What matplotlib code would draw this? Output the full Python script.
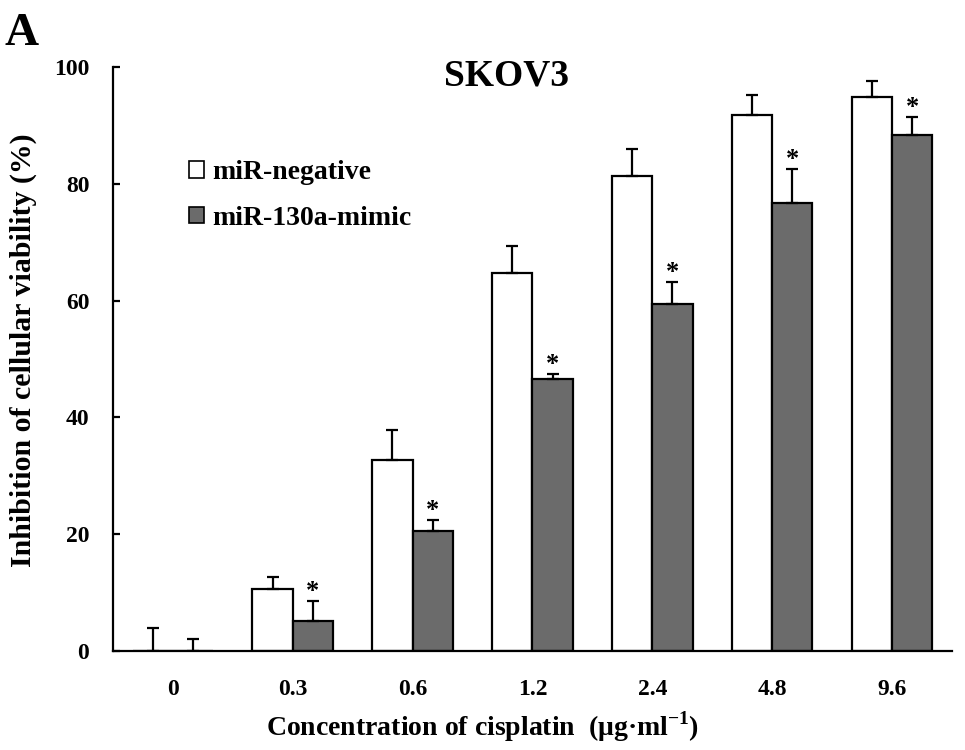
import numpy as np
import matplotlib
matplotlib.use('Agg')
import matplotlib.pyplot as plt
from matplotlib.patches import Patch

plt.rcParams['font.family'] = ['Liberation Serif', 'DejaVu Serif']
plt.rcParams['font.weight'] = 'bold'
plt.rcParams['mathtext.fontset'] = 'custom'
plt.rcParams['mathtext.rm'] = 'Liberation Serif:bold'
plt.rcParams['mathtext.bf'] = 'Liberation Serif:bold'

# Data
doses = ['0', '0.3', '0.6', '1.2', '2.4', '4.8', '9.6']
neg_mean = [0.0, 10.7, 32.7, 64.7, 81.3, 91.8, 94.8]
neg_err = [4.0, 2.0, 5.2, 4.6, 4.6, 3.5, 2.9]
mimic_mean = [0.0, 5.2, 20.6, 46.6, 59.4, 76.7, 88.4]
mimic_err = [2.1, 3.4, 1.9, 0.9, 3.8, 5.8, 3.0]
signif = [False, True, True, True, True, True, True]

fig = plt.figure(figsize=(9.65, 7.5), dpi=100)
ax = fig.add_axes([0.117, 0.132, 0.8695, 0.7785])

x = np.arange(len(doses))
w = 0.336
lw = 1.6

ax.bar(x - w / 2, neg_mean, w, color='white', edgecolor='black', linewidth=lw,
       yerr=[np.zeros(len(x)), neg_err], capsize=4.5,
       error_kw=dict(elinewidth=lw, capthick=lw, ecolor='black'))
ax.bar(x + w / 2, mimic_mean, w, color='#6b6b6b', edgecolor='black', linewidth=lw,
       yerr=[np.zeros(len(x)), mimic_err], capsize=4.5,
       error_kw=dict(elinewidth=lw, capthick=lw, ecolor='black'))

# significance stars above the mimic error bars
for i in range(len(x)):
    if signif[i]:
        ax.annotate('*', (x[i] + w / 2, mimic_mean[i] + mimic_err[i]),
                    xytext=(0, -1.5), textcoords='offset points',
                    ha='center', va='bottom', fontsize=19, fontweight='bold')

ax.set_xlim(-0.5, len(doses) - 0.5)
ax.set_ylim(0, 100)
ax.set_yticks([0, 20, 40, 60, 80, 100])
ax.set_xticks(x)
ax.set_xticklabels(doses)

ax.spines['top'].set_visible(False)
ax.spines['right'].set_visible(False)
ax.spines['left'].set_linewidth(1.6)
ax.spines['bottom'].set_linewidth(1.6)

ax.tick_params(axis='y', direction='in', length=5, width=1.6, pad=17, labelsize=17)
ax.tick_params(axis='x', length=0, pad=20, labelsize=17)

ax.set_xlabel(r'Concentration of cisplatin  (μg·ml$^{\mathbf{-1}}$)', fontsize=20,
              fontweight='bold')
ax.xaxis.set_label_coords(0.44, -0.1)
ax.set_ylabel('Inhibition of cellular viability (%)', fontsize=21.5,
              fontweight='bold')
ax.yaxis.set_label_coords(-0.09, 0.515)

fig.text(507 / 965, 1 - 58 / 750, 'SKOV3', ha='center', va='top',
         fontsize=27, fontweight='bold')

handles = [Patch(facecolor='white', edgecolor='black', linewidth=1.2),
           Patch(facecolor='#6b6b6b', edgecolor='black', linewidth=1.2)]
ax.legend(handles, ['miR-negative', 'miR-130a-mimic'], loc='upper left',
          bbox_to_anchor=(0.077, 0.86), frameon=False, fontsize=20,
          handlelength=0.55, handleheight=0.55, handletextpad=0.3,
          labelspacing=0.75, borderaxespad=0)

fig.text(0.005, 0.94, 'A', fontsize=34, fontweight='bold')

fig.savefig('out.png', dpi=100)
